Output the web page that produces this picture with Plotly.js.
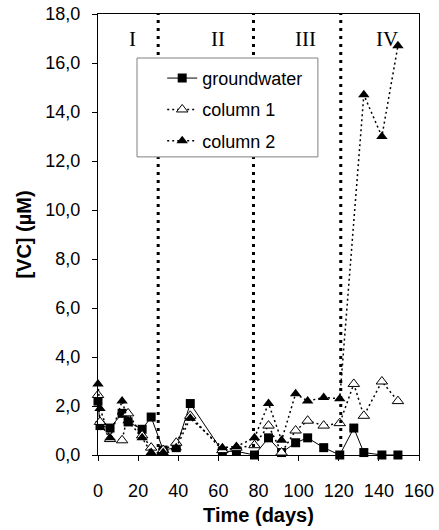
<!DOCTYPE html>
<html>
<head>
<meta charset="utf-8">
<script src="https://cdn.plot.ly/plotly-3.0.1.min.js"></script>
<style>html,body{margin:0;padding:0;background:#fff;}#chart{width:439px;height:530px;}</style>
</head>
<body>
<div id="chart"></div>
<script>
// Sampling days
const days = [0, 1, 6, 12, 15, 22, 26.5, 32.5, 39, 46, 62, 69, 78, 85, 91.5, 98.5, 104.5, 112.5, 120.5, 127.5, 132.5, 141.5, 149.5];
// VC concentrations (µM)
const groundwater = [2.2, 1.2, 1.1, 1.7, 1.35, 1.05, 1.55, 0.2, 0.3, 2.1, 0.15, 0.15, 0.0, 0.7, 0.1, 0.5, 0.7, 0.3, 0.0, 1.1, 0.1, 0.0, 0.0];
const column1 = [2.45, 1.35, 0.65, 0.6, 1.7, 0.8, 0.3, 0.2, 0.5, 1.6, 0.2, 0.3, 0.4, 1.2, 0.1, 1.0, 1.4, 1.2, 1.3, 2.9, 1.6, 3.0, 2.2];
const column2 = [2.9, 1.9, 0.7, 2.2, 1.4, 0.7, 0.1, 0.1, 0.3, 1.5, 0.3, 0.35, 0.7, 2.1, 0.6, 2.5, 2.2, 2.35, 2.3, null, 14.7, 13.0, 16.7];
// Phase boundaries (days) and phase labels
const phaseBoundaries = [30, 77.5, 121];
const phaseLabels = ['I', 'II', 'III', 'IV'];
const phaseLabelDays = [17, 60, 103.5, 144];
const phaseLabelLevel = 17.0;
const xTicks = [0, 20, 40, 60, 80, 100, 120, 140, 160];

const SANS = 'Liberation Sans, Arial, sans-serif';
const SERIF = 'Liberation Serif, Times New Roman, serif';

const traces = [
  {x: days, y: groundwater, name: 'groundwater', mode: 'lines+markers', legendgroup: 'a',
   line: {color: '#000', width: 1}, marker: {symbol: 'square', size: 9, color: '#000'}, cliponaxis: false},
  {x: days, y: column1, name: 'column 1', mode: 'lines+markers', legendgroup: 'b', connectgaps: true,
   line: {color: '#000', width: 1.5, dash: '2px,3px'},
   marker: {symbol: 'triangle-up', size: 10, color: '#fff', line: {color: '#000', width: 1}}, cliponaxis: false},
  {x: days, y: column2, name: 'column 2', mode: 'lines+markers', legendgroup: 'c', connectgaps: true,
   line: {color: '#000', width: 1.5, dash: '2px,3px'},
   marker: {symbol: 'triangle-up', size: 10, color: '#000'}, cliponaxis: false}
];

const shapes = phaseBoundaries.map(d => ({
  type: 'line', xref: 'x', yref: 'y', x0: d, x1: d, y0: 0, y1: 18,
  line: {color: '#000', width: 3, dash: '3px,5px'}, layer: 'above'
}));
// legend box
shapes.push({type: 'rect', xref: 'paper', yref: 'paper', x0: 0.1215, x1: 0.685, y0: 0.676, y1: 0.9002,
  fillcolor: '#fff', line: {color: '#808080', width: 1}, layer: 'above'});

const annotations = phaseLabels.map((t, i) => ({
  x: phaseLabelDays[i], y: phaseLabelLevel, xref: 'x', yref: 'y', text: t, showarrow: false,
  font: {family: SERIF, size: 21, color: '#000'}
}));

const layout = {
  width: 439, height: 530,
  margin: {l: 98, r: 20, t: 14, b: 75},
  paper_bgcolor: '#fff', plot_bgcolor: '#fff',
  separators: ',.',
  showlegend: true,
  font: {family: SANS, color: '#000'},
  xaxis: {
    range: [0, 160], tickvals: xTicks, ticks: 'outside', ticklen: 5, tickcolor: '#000',
    showline: true, mirror: true, linecolor: '#000', linewidth: 1,
    showgrid: false, zeroline: false, fixedrange: true,
    tickfont: {family: SANS, size: 18, color: '#000'}, ticklabelstandoff: 14,
    title: {text: '<b>Time (days)</b>', font: {family: SANS, size: 20, color: '#000'}, standoff: 8}
  },
  yaxis: {
    range: [0, 18], dtick: 2, tick0: 0, tickformat: '.1f', ticks: 'outside', ticklen: 5, tickcolor: '#000',
    showline: true, mirror: true, linecolor: '#000', linewidth: 1,
    showgrid: false, zeroline: false, fixedrange: true,
    tickfont: {family: SANS, size: 18, color: '#000'}, ticklabelstandoff: 8,
    title: {text: '<b>[VC] (µM)</b>', font: {family: SANS, size: 20, color: '#000'}, standoff: 8}
  },
  legend: {
    x: 0.2, y: 0.896, xanchor: 'left', yanchor: 'top',
    bgcolor: 'rgba(0,0,0,0)', borderwidth: 0,
    traceorder: 'grouped', tracegroupgap: 5,
    font: {family: SANS, size: 18, color: '#000'}
  },
  shapes: shapes,
  annotations: annotations
};

Plotly.newPlot('chart', traces, layout, {staticPlot: true, displayModeBar: false});
</script>
</body>
</html>
